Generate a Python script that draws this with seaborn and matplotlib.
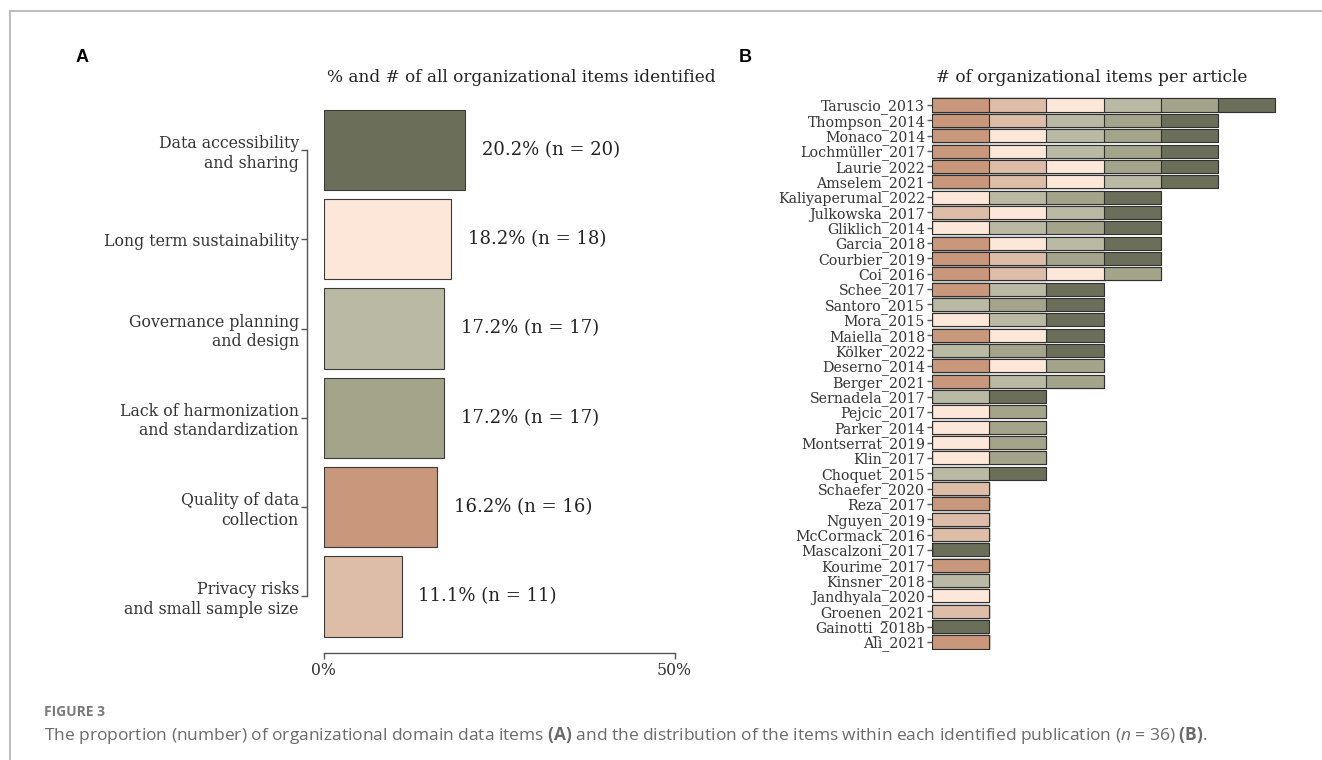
import matplotlib
matplotlib.use("Agg")
import matplotlib.pyplot as plt
from matplotlib.lines import Line2D
import seaborn as sns
import pandas as pd

# ---------------- data ----------------
domain_labels = [
    "Data accessibility\nand sharing",
    "Long term sustainability",
    "Governance planning\nand design",
    "Lack of harmonization\nand standardization",
    "Quality of data\ncollection",
    "Privacy risks\nand small sample size",
]
domain_codes = ["D", "L", "G", "H", "Q", "P"]
domain_counts = [20, 18, 17, 17, 16, 11]

articles = [
    "Taruscio_2013", "Thompson_2014", "Monaco_2014", "Lochmüller_2017", "Laurie_2022",
    "Amselem_2021", "Kaliyaperumal_2022", "Julkowska_2017", "Gliklich_2014", "Garcia_2018",
    "Courbier_2019", "Coi_2016", "Schee_2017", "Santoro_2015", "Mora_2015",
    "Maiella_2018", "Kölker_2022", "Deserno_2014", "Berger_2021", "Sernadela_2017",
    "Pejcic_2017", "Parker_2014", "Montserrat_2019", "Klin_2017", "Choquet_2015",
    "Schaefer_2020", "Reza_2017", "Nguyen_2019", "McCormack_2016", "Mascalzoni_2017",
    "Kourime_2017", "Kinsner_2018", "Jandhyala_2020", "Groenen_2021", "Gainotti_2018b",
    "Ali_2021",
]
article_items = [
    "QPLGHD", "QPGHD", "QLGHD", "QLGHD", "QPLHD",
    "QPLGD", "LGHD", "PLGD", "LGHD", "QLGD",
    "QPHD", "QPLH", "QGD", "GHD", "LGD",
    "QLD", "GHD", "QLH", "QGH", "GD",
    "LH", "LH", "LH", "LH", "GD",
    "P", "Q", "P", "P", "D",
    "Q", "G", "L", "P", "D",
    "Q",
]
stack_order = ["Q", "P", "L", "G", "H", "D"]

# ---------------- styling ----------------
colors = {"D": "#6b6f5a", "L": "#fde7d8", "G": "#b9b9a4", "H": "#a4a48b",
          "Q": "#c9977c", "P": "#ddbda8"}
sns.set_style("white")
plt.rcParams["font.family"] = ["DejaVu Serif"]
plt.rcParams["mathtext.fontset"] = "custom"
plt.rcParams["mathtext.rm"] = "Open Sans"
plt.rcParams["mathtext.it"] = "Open Sans:italic"
plt.rcParams["mathtext.bf"] = "Open Sans:bold"

W, H, DPI = 1322, 760, 100
fig = plt.figure(figsize=(W / DPI, H / DPI), dpi=DPI)
fig.patch.set_facecolor("white")

def fx(px):
    return px / W

def fy(py):
    return 1 - py / H

TXT = "#333333"
EDGE = "#3a3a3a"

# ---------------- panel A ----------------
dfA = pd.DataFrame({"domain": domain_labels, "code": domain_codes, "n": domain_counts})
dfA["pct"] = dfA["n"] / dfA["n"].sum() * 100
palA = {lab: colors[c] for lab, c in zip(domain_labels, domain_codes)}

pxu = 7.02  # pixels per percent
a_left = 323.5
a_xmax = 56
a_top, a_bot = 105.4, 641.0
axA = fig.add_axes([fx(a_left), fy(a_bot), fx(pxu * a_xmax), (a_bot - a_top) / H])
sns.barplot(data=dfA, x="pct", y="domain", hue="domain", palette=palA, order=domain_labels,
            hue_order=domain_labels, width=0.9, edgecolor=EDGE, linewidth=0.8,
            saturation=1, errorbar=None, legend=False, ax=axA)
axA.set_xlim(0, a_xmax)
axA.set_ylim(5.5, -0.5)
axA.set_xticks([0, 50])
axA.set_xticklabels(["0%", "50%"])
axA.set_xlabel("")
axA.set_ylabel("")
for s in ["top", "right"]:
    axA.spines[s].set_visible(False)
axA.spines["left"].set_position(("outward", 11.8))
axA.spines["bottom"].set_position(("outward", 8.6))
axA.spines["left"].set_bounds(0, 5)
axA.spines["bottom"].set_bounds(0, 50)
for s in ["left", "bottom"]:
    axA.spines[s].set_color("#555555")
    axA.spines[s].set_linewidth(1.0)
axA.tick_params(axis="both", which="both", length=4, width=1.0, color="#555555",
                labelcolor=TXT, labelsize=11.3, left=True, bottom=True, pad=2)
axA.tick_params(axis="x", pad=2.5)
for i, (p, n) in enumerate(zip(dfA["pct"], dfA["n"])):
    axA.text(p + 2.4, i, f"{p:.1f}% (n = {n})", va="center", ha="left",
             fontsize=13, color="#222222")

fig.text(fx(521), fy(77), "% and # of all organizational items identified",
         ha="center", va="center", fontsize=12.2, color="#222222")

# ---------------- panel B ----------------
cum = {c: [] for c in stack_order}
for items in article_items:
    k = 0
    for c in stack_order:
        if c in items:
            k += 1
        cum[c].append(k)
dfB = pd.DataFrame({"article": articles, **cum})

unit = 57.2
b_left = 932
row = (642 - 105) / 35
b_top = 105 - row / 2
b_bot = 642 + row / 2
axB = fig.add_axes([fx(b_left), fy(b_bot), fx(unit * 6.3), (b_bot - b_top) / H])
for c in reversed(stack_order):
    sns.barplot(data=dfB, x=c, y="article", order=articles, color=colors[c],
                width=0.85, edgecolor="#2f2f2f", linewidth=0.8, saturation=1,
                errorbar=None, orient="h", ax=axB)
axB.set_xlim(0, 6.3)
axB.set_ylim(len(articles) - 0.5, -0.5)
axB.set_xlabel("")
axB.set_ylabel("")
for s in axB.spines.values():
    s.set_visible(False)
axB.set_xticks([])
axB.tick_params(axis="y", length=3.5, width=1.0, color="#555555", labelcolor=TXT,
                labelsize=10.2, left=True, pad=1.5)
fig.text(fx(1092), fy(77), "# of organizational items per article",
         ha="center", va="center", fontsize=12.2, color="#222222")

# ---------------- panel letters ----------------
fig.text(fx(82), fy(58), "A", ha="center", va="center", fontsize=13,
         fontweight="bold", family="Liberation Sans", color="black")
fig.text(fx(745), fy(58), "B", ha="center", va="center", fontsize=13,
         fontweight="bold", family="Liberation Sans", color="black")

# ---------------- frame & caption ----------------
fig.add_artist(Line2D([fx(9.5), 1], [fy(11), fy(11)], color="#bdbdbd", lw=1.5))
fig.add_artist(Line2D([fx(9.5), fx(9.5)], [fy(11), 0], color="#bdbdbd", lw=1.5))

fig.text(fx(44), fy(712), "FIGURE 3", ha="left", va="center", fontsize=10,
         family="Open Sans", fontweight="bold", color="#7a7a7a")
caption = (r"The proportion (number) of organizational domain data items $\mathbf{(A)}$ "
           r"and the distribution of the items within each identified publication "
           r"($\mathit{n}$ = 36) $\mathbf{(B)}$.")
fig.text(fx(44), fy(735), caption, ha="left", va="center", fontsize=12.5,
         family="Open Sans", color="#6a6a6a")

fig.savefig("out.png", dpi=DPI, facecolor="white")
